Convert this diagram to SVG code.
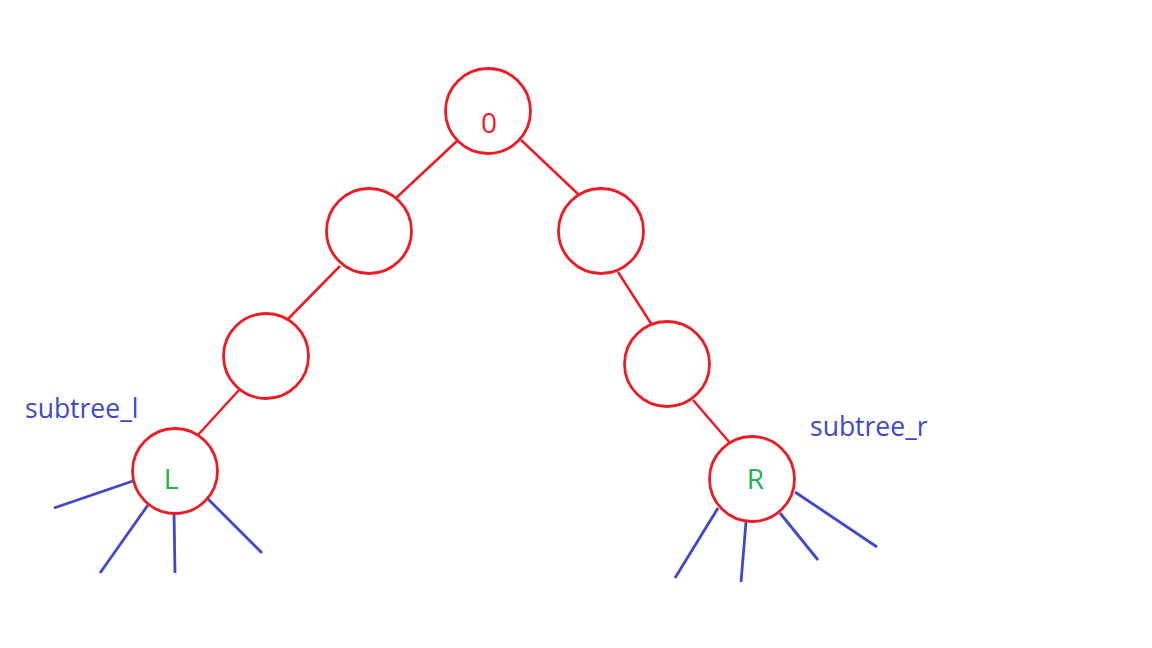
<svg xmlns="http://www.w3.org/2000/svg" width="1152" height="648" viewBox="0 0 1152 648">
<style>
.node{fill:#ffffff;stroke:#ed1c24;stroke-width:2.8}
.edge{stroke:#ed1c24;stroke-width:2.5;fill:none}
.sub{stroke:#3f48cc;stroke-width:2.8;fill:none}
.lbl{font-family:"Open Sans","Noto Sans",sans-serif;font-size:28px;text-anchor:middle}
.note{font-family:"Open Sans","Noto Sans",sans-serif;font-size:26.5px;fill:#3f48cc}
</style>
<rect width="1152" height="648" fill="#ffffff"/>
<g id="connectors">
<line class="edge" x1="457" y1="141" x2="396" y2="198"/>
<line class="edge" x1="521" y1="140" x2="578" y2="194"/>
<line class="edge" x1="340" y1="266" x2="288" y2="319"/>
<line class="edge" x1="618" y1="272" x2="652" y2="325"/>
<line class="edge" x1="239" y1="390" x2="197" y2="436"/>
<line class="edge" x1="693" y1="400" x2="730" y2="443"/>
<line class="sub" x1="133" y1="481" x2="54" y2="508"/>
<line class="sub" x1="148" y1="505" x2="100" y2="573"/>
<line class="sub" x1="174" y1="512" x2="175" y2="573"/>
<line class="sub" x1="207" y1="498" x2="262" y2="553"/>
<line class="sub" x1="718" y1="508" x2="675" y2="578"/>
<line class="sub" x1="746" y1="522" x2="741" y2="582"/>
<line class="sub" x1="780" y1="513" x2="818" y2="560"/>
<line class="sub" x1="795" y1="492" x2="877" y2="547"/>
</g>
<g id="node-0"><circle class="node" cx="488" cy="111" r="42.5"/><text class="lbl" x="489" y="133" fill="#ed1c24">0</text></g>
<g id="node-a"><circle class="node" cx="369" cy="231" r="42.5"/></g>
<g id="node-b"><circle class="node" cx="601" cy="231" r="42.5"/></g>
<g id="node-c"><circle class="node" cx="266" cy="356" r="42.5"/></g>
<g id="node-d"><circle class="node" cx="667" cy="364" r="42.5"/></g>
<g id="node-L"><circle class="node" cx="175" cy="471" r="42.5"/><text class="lbl" x="171" y="489" fill="#22b14c">L</text></g>
<g id="node-R"><circle class="node" cx="752" cy="479" r="42.5"/><text class="lbl" x="755.5" y="489" fill="#22b14c">R</text></g>
<g id="label-l"><text class="note" x="25" y="418">subtree_l</text></g>
<g id="label-r"><text class="note" x="810" y="436">subtree_r</text></g>
</svg>
